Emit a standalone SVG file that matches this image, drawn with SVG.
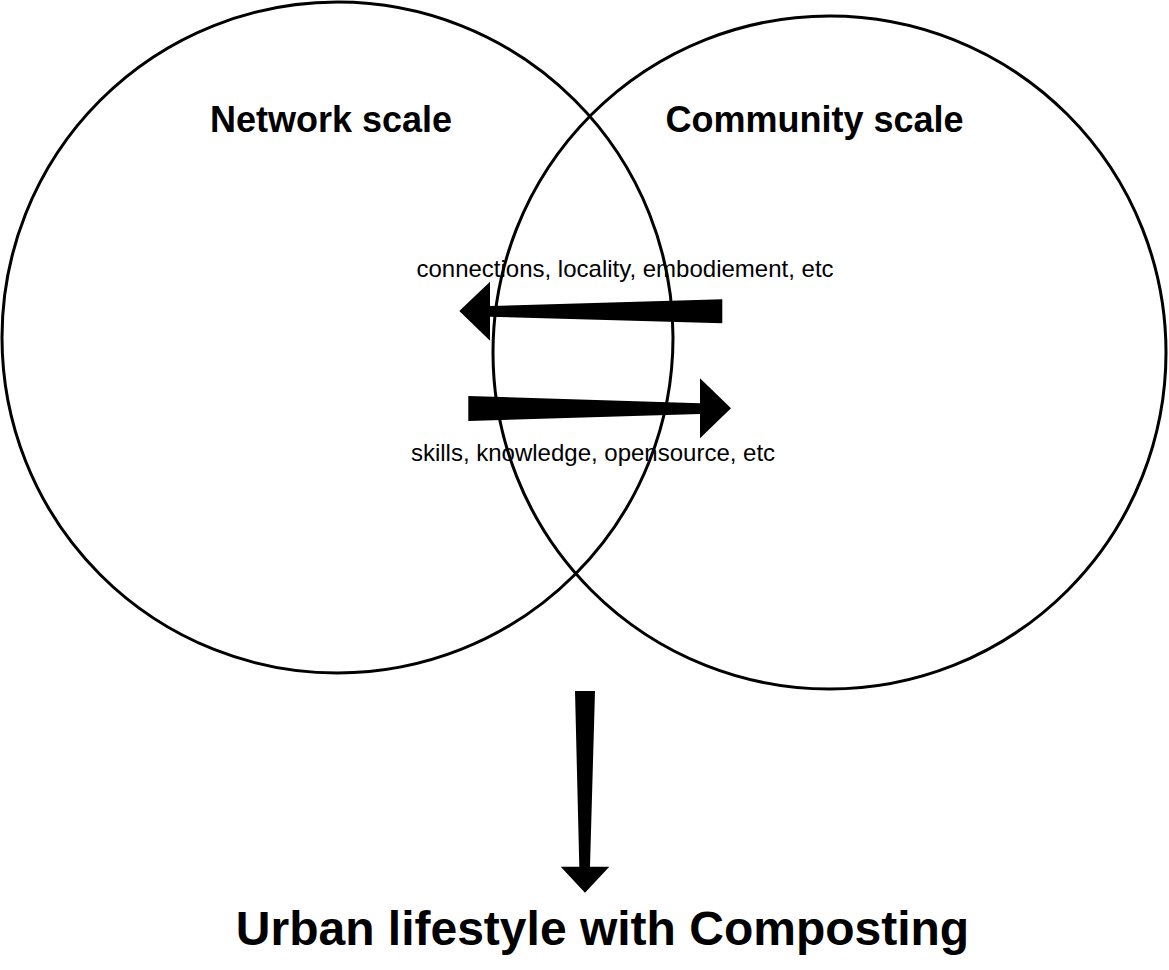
<svg xmlns="http://www.w3.org/2000/svg" width="1169" height="970" viewBox="0 0 1169 970">
<style>
.c{fill:none;stroke:#000;stroke-width:3}
.a{fill:#000;stroke:none}
.t{font-family:"Liberation Sans",Arial,sans-serif;fill:#000;text-anchor:middle}
.b{font-weight:bold}
</style>
<rect width="1169" height="970" fill="#fff"/>
<g id="network">
<circle class="c" cx="337.5" cy="337.5" r="335.5"/>
<text class="t b" x="331" y="132" font-size="36">Network scale</text>
</g>
<g id="community">
<circle class="c" cx="829.5" cy="352.5" r="336.5"/>
<text class="t b" x="814.5" y="132" font-size="36">Community scale</text>
</g>
<g id="connectors">
<polygon class="a" points="722.3,299.3 722.3,323.3 490,316.7 490,340.7 459.3,311 490,281.7 490,306"/>
<polygon class="a" points="468.3,396 468.3,421 700,414 700,438.3 731,408.3 700,378.3 700,403.3"/>
<polygon class="a" points="575,691 595,691 590,866.7 609.3,866.7 585,892.7 560.7,866.7 579.3,866.7"/>
<text class="t" x="625" y="277" font-size="24" id="label-top">connections, locality, embodiement, etc</text>
<text class="t" x="593" y="461" font-size="24" id="label-bottom">skills, knowledge, opensource, etc</text>
</g>
<g id="result">
<text class="t b" x="602.5" y="945" font-size="48">Urban lifestyle with Composting</text>
</g>
</svg>
